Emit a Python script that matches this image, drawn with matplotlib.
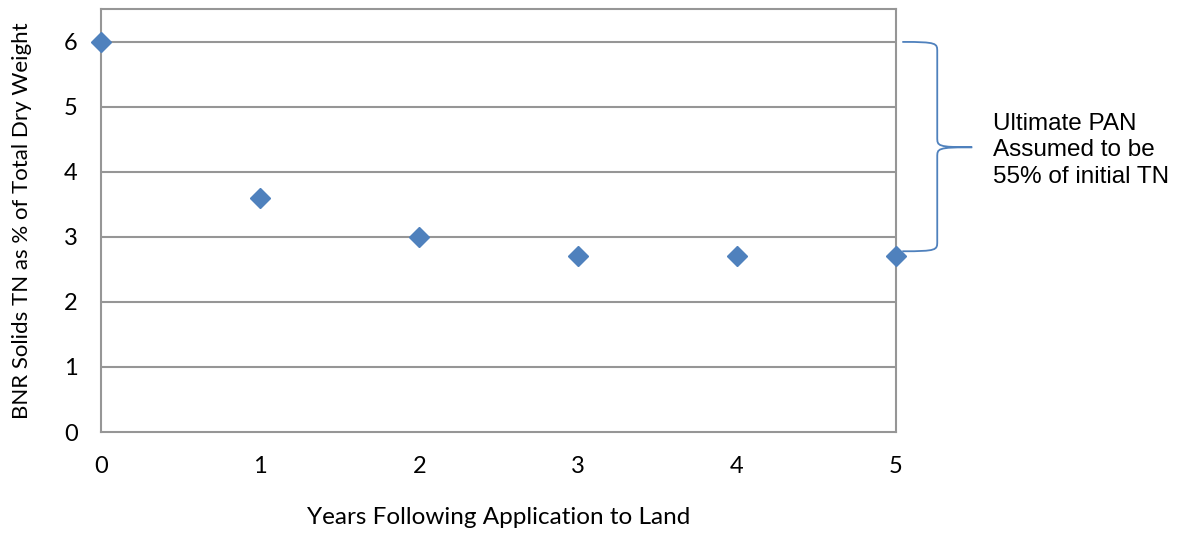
import numpy as np
import matplotlib.pyplot as plt
from matplotlib.path import Path
from matplotlib.patches import PathPatch

years = [0, 1, 2, 3, 4, 5]
tn_pct = [6.0, 3.6, 3.0, 2.7, 2.7, 2.7]
yticks = [0, 1, 2, 3, 4, 5, 6]
note = 'Ultimate PAN\nAssumed to be\n55% of initial TN'

blue = '#4F81BD'
grid = '#969696'

fig = plt.figure(figsize=(11.84, 5.38), dpi=100)
ax = fig.add_axes([0.0857, 0.197, 0.671, 0.7855])

ax.plot(years, tn_pct, 'D', color=blue, markersize=10, clip_on=False, zorder=5)
ax.set_xlim(0, 5)
ax.set_ylim(0, 6.5)
ax.set_xticks(years)
ax.set_yticks(yticks)
for v in yticks[1:]:
    ax.axhline(v, color=grid, lw=1.5, zorder=1)
for s in ax.spines.values():
    s.set_color(grid)
    s.set_linewidth(1.5)
ax.tick_params(length=0, labelsize=17, pad=17)
for lab in ax.get_xticklabels() + ax.get_yticklabels():
    lab.set_family('Lato')
ax.set_xlabel('Years Following Application to Land', family='Lato',
              fontsize=17.5, labelpad=22)
ax.set_ylabel('BNR Solids TN as % of Total Dry Weight', family='Lato',
              fontsize=16, labelpad=23)

# curly brace to the right of the plot (x in data units past 5)
x0, x1, x2 = 5.04, 5.26, 5.48
ytop, ymid, ybot = 6.0, 4.38, 2.78
verts = [(x0, ytop), (x1, ytop), (x1, ytop - 0.02), (x1, ytop - 0.15),
         (x1, ymid + 0.15), (x1, ymid + 0.02), (x1, ymid), (x2, ymid),
         (x1, ymid), (x1, ymid - 0.02), (x1, ymid - 0.15),
         (x1, ybot + 0.15), (x1, ybot + 0.02), (x1, ybot), (x0, ybot)]
codes = [Path.MOVETO, Path.CURVE4, Path.CURVE4, Path.CURVE4,
         Path.LINETO, Path.CURVE4, Path.CURVE4, Path.CURVE4,
         Path.CURVE4, Path.CURVE4, Path.CURVE4,
         Path.LINETO, Path.CURVE4, Path.CURVE4, Path.CURVE4]
ax.add_patch(PathPatch(Path(verts, codes), fill=False, edgecolor=blue,
                       lw=1.3, clip_on=False))

ax.text(5.61, ymid - 0.05, note, family='Liberation Sans', fontsize=17.5,
        va='center', ha='left', linespacing=1.25, clip_on=False)

plt.savefig('out.png', dpi=100)
